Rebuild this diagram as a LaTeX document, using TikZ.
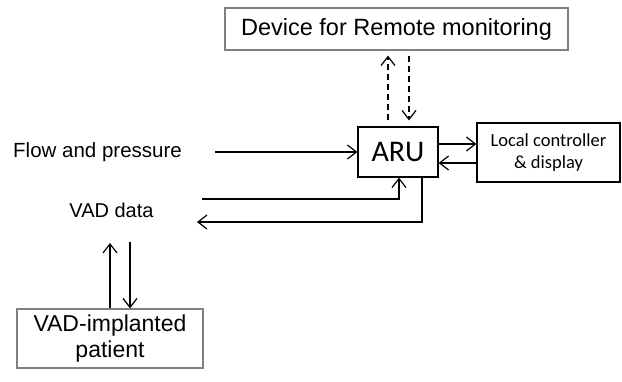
\documentclass[tikz,border=0pt]{standalone}
\usepackage{fontspec}
\setmainfont{Liberation Sans}
\newfontfamily\calibrifont{Carlito}
\definecolor{boxgray}{HTML}{808080}
\usetikzlibrary{calc, arrows.meta}

\begin{document}
\begin{tikzpicture}[x=1pt, y=-1pt]
    \tikzset{%
        box/.style={draw, line width=1.2pt, inner sep=0pt, align=center},
        graybox/.style={box, draw=boxgray},
        link/.style={line width=1.2pt, -{Straight Barb[length=9pt, width=14pt, line width=1.2pt]}},
        dlink/.style={link, dash pattern=on 6pt off 4pt}
    }

    \useasboundingbox (0, 0) rectangle (622, 381);

    % boxes
    \node (remote) at (396.5, 29) [graybox, minimum width=343pt, minimum height=42pt, font=\fontsize{23.5pt}{26pt}\selectfont] {Device for Remote monitoring};
    \node (aru) at (398, 152) [box, minimum width=80pt, minimum height=50pt, font=\calibrifont\fontsize{30pt}{32pt}\selectfont] {ARU};
    \node (local) at (548.5, 152.5) [box, minimum width=143pt, minimum height=59pt, font=\calibrifont\fontsize{18.5pt}{21.5pt}\selectfont] {Local controller\\\& display};
    \node (patient) at (110, 338.5) [graybox, minimum width=186pt, minimum height=59pt, font=\fontsize{23pt}{26pt}\selectfont] {VAD-implanted\\patient};

    % labels
    \node (flow) at (97.5, 152) [font=\fontsize{20.5pt}{22pt}\selectfont] {Flow and pressure};
    \node (vad) at (111.5, 210) [font=\fontsize{20pt}{22pt}\selectfont] {VAD data};

    \coordinate (flowin) at (215, 152);
    \coordinate (vadin) at (202, 199);
    \coordinate (vadout) at (197, 222);
    \coordinate (pin) at (110, 243);
    \coordinate (pout) at (130, 242);

    % connectors
    \draw [link] (flowin) -- (aru.west);
    \draw [link] ([yshift=8pt]aru.east) -- ([yshift=8pt]local.west |- aru.east);
    \draw [link] ([yshift=-11pt]local.west |- aru.east) -- ([yshift=-11pt]aru.east);
    \draw [dlink] ($(aru.north)+(-10, -6)$) -- ($(aru.north |- remote.south)+(-10, 5)$);
    \draw [dlink] ($(aru.north |- remote.south)+(11, 5)$) -- ($(aru.north)+(11, -6)$);
    \draw [link] (vadin) -| ([xshift=1pt]aru.south);
    \draw [link] ([xshift=24pt]aru.south) |- (vadout);
    \draw [link] (patient.north) -- (pin);
    \draw [link] (pout) -- (pout |- patient.north);
\end{tikzpicture}
\end{document}
